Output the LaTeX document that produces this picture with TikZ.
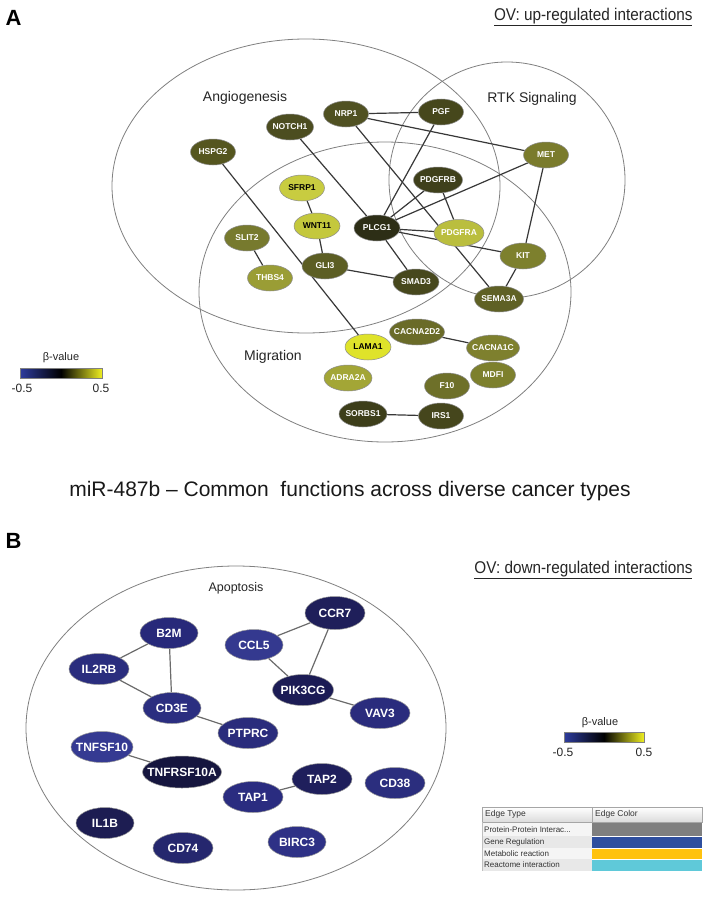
\documentclass[tikz,border=0pt]{standalone}
\usepackage{fontspec}
\setmainfont{Liberation Sans}
\newfontfamily\narrowsans[FakeStretch=0.9]{Liberation Sans}
\usetikzlibrary{shapes.geometric}
\pgfdeclarelayer{back}
\pgfdeclarelayer{bg}
\pgfsetlayers{back,bg,main}
% top panel colours
\definecolor{cNRP}{HTML}{505122}
\definecolor{cPGF}{HTML}{46471C}
\definecolor{cNOTCH}{HTML}{4C4D20}
\definecolor{cHSPG}{HTML}{55561F}
\definecolor{cMET}{HTML}{7A7B2C}
\definecolor{cPDGFRB}{HTML}{3F401B}
\definecolor{cSFRP}{HTML}{C8CC40}
\definecolor{cWNT}{HTML}{C4C83C}
\definecolor{cPLCG}{HTML}{2D2E16}
\definecolor{cPDGFRA}{HTML}{BABE3E}
\definecolor{cSLIT}{HTML}{777A2E}
\definecolor{cKIT}{HTML}{7D802D}
\definecolor{cGLI}{HTML}{5C5E24}
\definecolor{cTHBS}{HTML}{9A9D35}
\definecolor{cSMAD}{HTML}{47481D}
\definecolor{cSEMA}{HTML}{5F6125}
\definecolor{cCAD}{HTML}{6A6B28}
\definecolor{cLAMA}{HTML}{DFE32A}
\definecolor{cCAC}{HTML}{7E802E}
\definecolor{cMDFI}{HTML}{7D802D}
\definecolor{cF10}{HTML}{6E7029}
\definecolor{cADRA}{HTML}{A3A636}
\definecolor{cSORBS}{HTML}{3D3E1A}
\definecolor{cIRS}{HTML}{45461C}
% bottom panel colours
\definecolor{bCCR}{HTML}{1F1F5A}
\definecolor{bB2M}{HTML}{27297A}
\definecolor{bCCL}{HTML}{34398F}
\definecolor{bIL2}{HTML}{2A2D7E}
\definecolor{bPIK}{HTML}{1C1C55}
\definecolor{bVAV}{HTML}{2A2C7D}
\definecolor{bCD3}{HTML}{2B2E80}
\definecolor{bPTP}{HTML}{2A2C7C}
\definecolor{bTNF}{HTML}{353A92}
\definecolor{bTNFR}{HTML}{16163F}
\definecolor{bTAP2}{HTML}{1F1F5C}
\definecolor{bTAP1}{HTML}{2A2C80}
\definecolor{bCD38}{HTML}{2B2E7E}
\definecolor{bIL1}{HTML}{1D1D52}
\definecolor{bCD74}{HTML}{25276E}
\definecolor{bBIRC}{HTML}{2E3186}
% legend colours
\definecolor{legBlue}{HTML}{2E3C9E}
\definecolor{legYel}{HTML}{EEEE22}
\definecolor{etGray}{HTML}{7F7F7F}
\definecolor{etBlue}{HTML}{2F4F9F}
\definecolor{etGold}{HTML}{FFC20E}
\definecolor{etCyan}{HTML}{5FC9D9}
\begin{document}
\begin{tikzpicture}[x=1pt,y=-1pt,
  gt/.style={ellipse, draw=black!45, line width=0.5pt, inner xsep=-30pt, inner ysep=-30pt,
    minimum width=45pt, minimum height=26pt, font=\fontsize{8.5}{9}\selectfont\bfseries, text=white},
  gb/.style={ellipse, draw=black!40, line width=0.5pt, inner xsep=-40pt, inner ysep=-40pt,
    minimum width=58pt, minimum height=31pt, font=\fontsize{12}{13}\selectfont\bfseries, text=white},
  et/.style={draw=black!78, line width=1.2pt},
  eb/.style={draw=black!58, line width=1.2pt},
  grp/.style={draw=black!50, line width=0.8pt},
  glab/.style={font=\fontsize{14}{16}\selectfont, text=black!85},
  ovlab/.style={anchor=east, font=\narrowsans\fontsize{17}{20}\selectfont, text=black!85},
  panlab/.style={anchor=west, font=\fontsize{22}{24}\selectfont\bfseries},
  legt/.style={font=\fontsize{12}{13}\selectfont, text=black!85},
  tabt/.style={anchor=west, font=\fontsize{8}{9}\selectfont, text=black!80, inner sep=0pt},
]
\useasboundingbox (0,0) rectangle (704,899);
\begin{pgfonlayer}{back}
  \fill[white] (0,0) rectangle (704,899);
\end{pgfonlayer}

% ---------------- Panel A ----------------
\node[panlab] (labA) at (2,18) {A};
\node[ovlab] (ovA) at (696,17) {\underline{OV: up-regulated interactions}};

\node[glab] (angio) at (245,98) {Angiogenesis};
\node[glab] (rtk) at (532,99) {RTK Signaling};
\node[glab] (migr) at (273,357) {Migration};

\node[gt, fill=cNRP] (nrp1) at (346,114) {NRP1};
\node[gt, fill=cPGF] (pgf) at (441,112) {PGF};
\node[gt, fill=cNOTCH, minimum width=47pt] (notch1) at (290,127) {NOTCH1};
\node[gt, fill=cHSPG] (hspg2) at (213,152) {HSPG2};
\node[gt, fill=cMET] (met) at (546,155) {MET};
\node[gt, fill=cPDGFRB, minimum width=49pt] (pdgfrb) at (438,180) {PDGFRB};
\node[gt, fill=cSFRP, text=black] (sfrp1) at (302,188) {SFRP1};
\node[gt, fill=cWNT, text=black, minimum width=46pt] (wnt11) at (317,226) {WNT11};
\node[gt, fill=cPLCG, minimum width=46pt] (plcg1) at (377,228) {PLCG1};
\node[gt, fill=cPDGFRA, minimum width=50pt, minimum height=27pt] (pdgfra) at (459,233) {PDGFRA};
\node[gt, fill=cSLIT] (slit2) at (247,238) {SLIT2};
\node[gt, fill=cKIT, minimum width=46pt] (kit) at (523,256) {KIT};
\node[gt, fill=cGLI, minimum width=46pt] (gli3) at (325,266) {GLI3};
\node[gt, fill=cTHBS] (thbs4) at (270,278) {THBS4};
\node[gt, fill=cSMAD, minimum width=46pt] (smad3) at (416,282) {SMAD3};
\node[gt, fill=cSEMA, minimum width=49pt] (sema3a) at (499,299) {SEMA3A};
\node[gt, fill=cCAD, minimum width=55pt] (cacna2d2) at (417,332) {CACNA2D2};
\node[gt, fill=cLAMA, text=black, minimum width=46pt] (lama1) at (368,347) {LAMA1};
\node[gt, fill=cCAC, minimum width=53pt] (cacna1c) at (493,348) {CACNA1C};
\node[gt, fill=cMDFI] (mdfi) at (493,375) {MDFI};
\node[gt, fill=cF10] (f10) at (447,386) {F10};
\node[gt, fill=cADRA, minimum width=48pt] (adra2a) at (348,378) {ADRA2A};
\node[gt, fill=cSORBS, minimum width=48pt] (sorbs1) at (363,414) {SORBS1};
\node[gt, fill=cIRS] (irs1) at (441,416) {IRS1};

\begin{pgfonlayer}{bg}
  \draw[grp] (306,186) ellipse [x radius=194pt, y radius=147pt];
  \draw[grp] (507,180) circle [radius=118pt];
  \draw[grp] (385,292) ellipse [x radius=186pt, y radius=150pt];
  \draw[et] (nrp1) -- (pgf);
  \draw[et] (nrp1) -- (met);
  \draw[et] (nrp1) -- (sema3a);
  \draw[et] (pgf) -- (plcg1);
  \draw[et] (notch1) -- (plcg1);
  \draw[et] (hspg2) -- (lama1);
  \draw[et] (sfrp1) -- (wnt11);
  \draw[et] (wnt11) -- (gli3);
  \draw[et] (slit2) -- (thbs4);
  \draw[et] (gli3) -- (smad3);
  \draw[et] (plcg1) -- (smad3);
  \draw[et] (plcg1) -- (pdgfrb);
  \draw[et] (plcg1) -- (met);
  \draw[et] (plcg1) -- (pdgfra);
  \draw[et] (plcg1) -- (kit);
  \draw[et] (pdgfrb) -- (pdgfra);
  \draw[et] (met) -- (kit);
  \draw[et] (kit) -- (sema3a);
  \draw[et] (cacna2d2) -- (cacna1c);
  \draw[et] (sorbs1) -- (irs1);
\end{pgfonlayer}

% legend A
\node[legt, font=\fontsize{11}{12}\selectfont] (bvA) at (61,358) {β-value};
\shade[left color=legBlue, right color=legYel, middle color=black] (20,368) rectangle (102,378);
\draw[black!50, line width=0.4pt] (20,368) rectangle (102,378);
\node[legt] (mnA) at (22,388) {-0.5};
\node[legt] (mxA) at (101,388) {0.5};

% title
\node[font=\fontsize{21}{24}\selectfont, text=black!90] (title) at (350,491) {miR-487b – Common\ \ functions across diverse cancer types};

% ---------------- Panel B ----------------
\node[panlab] (labB) at (2,541) {B};
\node[ovlab] (ovB) at (696,570) {\underline{OV: down-regulated interactions}};
\node[font=\fontsize{12.5}{14}\selectfont, text=black!85] (apop) at (236,588) {Apoptosis};

\node[gb, fill=bCCR, minimum width=60pt, minimum height=33pt] (ccr7) at (335,613) {CCR7};
\node[gb, fill=bB2M] (b2m) at (169,633) {B2M};
\node[gb, fill=bCCL] (ccl5) at (254,645) {CCL5};
\node[gb, fill=bIL2, minimum width=60pt] (il2rb) at (99,669) {IL2RB};
\node[gb, fill=bPIK, minimum width=61pt] (pik3cg) at (303,690) {PIK3CG};
\node[gb, fill=bVAV, minimum width=60pt] (vav3) at (380,713) {VAV3};
\node[gb, fill=bCD3] (cd3e) at (172,708) {CD3E};
\node[gb, fill=bPTP, minimum width=60pt] (ptprc) at (248,733) {PTPRC};
\node[gb, fill=bTNF, minimum width=62pt] (tnfsf10) at (102,747) {TNFSF10};
\node[gb, fill=bTNFR, minimum width=79pt, minimum height=32pt] (tnfrsf10a) at (182,772) {TNFRSF10A};
\node[gb, fill=bTAP2, minimum width=60pt] (tap2) at (322,779) {TAP2};
\node[gb, fill=bTAP1, minimum width=60pt] (tap1) at (253,797) {TAP1};
\node[gb, fill=bCD38, minimum width=60pt] (cd38) at (395,783) {CD38};
\node[gb, fill=bIL1] (il1b) at (105,823) {IL1B};
\node[gb, fill=bCD74, minimum width=60pt] (cd74) at (183,848) {CD74};
\node[gb, fill=bBIRC] (birc3) at (297,842) {BIRC3};

\begin{pgfonlayer}{bg}
  \draw[grp] (236,728) ellipse [x radius=210pt, y radius=162pt];
  \draw[eb] (il2rb) -- (b2m);
  \draw[eb] (b2m) -- (cd3e);
  \draw[eb] (il2rb) -- (cd3e);
  \draw[eb] (cd3e) -- (ptprc);
  \draw[eb] (ccl5) -- (ccr7);
  \draw[eb] (ccr7) -- (pik3cg);
  \draw[eb] (ccl5) -- (pik3cg);
  \draw[eb] (pik3cg) -- (vav3);
  \draw[eb] (tnfsf10) -- (tnfrsf10a);
  \draw[eb] (tap1) -- (tap2);
\end{pgfonlayer}

% legend B
\node[legt, font=\fontsize{11}{12}\selectfont] (bvB) at (600,723) {β-value};
\shade[left color=legBlue, right color=legYel, middle color=black] (564,732) rectangle (644,742);
\draw[black!50, line width=0.4pt] (564,732) rectangle (644,742);
\node[legt] (mnB) at (563,752) {-0.5};
\node[legt] (mxB) at (644,752) {0.5};

% edge table
\shade[top color=white, bottom color=black!14] (482,807) rectangle (702,822);
\draw[black!35, line width=0.4pt] (482,807) rectangle (702,822);
\draw[black!35, line width=0.4pt] (592,807) -- (592,822);
\node[tabt, font=\fontsize{8.5}{9}\selectfont] (hdrA) at (485,814.5) {Edge Type};
\node[tabt, font=\fontsize{8.5}{9}\selectfont] (hdrB) at (595,814.5) {Edge Color};
\fill[black!4] (482,823) rectangle (592,836);
\fill[black!9] (482,836) rectangle (592,848);
\fill[black!4] (482,848) rectangle (592,859);
\fill[black!9] (482,859) rectangle (592,871);
\fill[etGray] (592,823) rectangle (702,836);
\fill[etBlue] (592,836.6) rectangle (702,848);
\fill[etGold] (592,848.6) rectangle (702,859);
\fill[etCyan] (592,859.6) rectangle (702,871);
\draw[black!25, line width=0.4pt] (482,822) -- (482,871);
\node[tabt] (r1) at (484,829.5) {Protein-Protein Interac...};
\node[tabt] (r2) at (484,842) {Gene Regulation};
\node[tabt] (r3) at (484,853.5) {Metabolic reaction};
\node[tabt] (r4) at (484,865) {Reactome interaction};
\end{tikzpicture}
\end{document}
